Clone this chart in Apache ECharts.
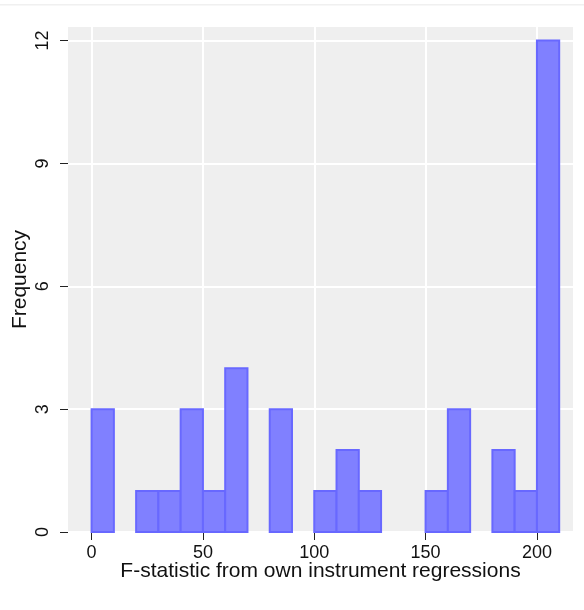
<!DOCTYPE html>
<html><head><meta charset="utf-8">
<script src="https://cdn.jsdelivr.net/npm/echarts@6/dist/echarts.min.js"></script>
<style>html,body{margin:0;padding:0;background:#fff}#c{width:584px;height:610px}</style>
</head><body><div id="c"></div>
<script>
const binStarts = [0,10,20,30,40,50,60,70,80,90,100,110,120,130,140,150,160,170,180,190,200];
const counts    = [3,0,1,1,3,1,4,0,3,0,1,2,1,0,0,1,3,0,2,1,12];
const binWidth = 10;
const xTicks = [0,50,100,150,200];
const yTicks = [0,3,6,9,12];

const data = binStarts.map((s,i)=>[s, s+binWidth, counts[i]]).filter(d=>d[2]>0);
const chart = echarts.init(document.getElementById('c'), null, {renderer:'canvas'});
const font = 'Liberation Sans, Arial, sans-serif';
chart.setOption({
  animation:false,
  backgroundColor:'#fff',
  grid:{left:68,right:11,top:27,bottom:78,show:true,backgroundColor:'#efefef',borderWidth:0,
        outerBoundsMode:'none',containLabel:false},
  graphic:[{type:'rect',shape:{x:0,y:4,width:584,height:1.5},style:{fill:'#f0f0f0'},silent:true}],
  xAxis:{type:'value',min:-10.6,max:216.2,
    name:'F-statistic from own instrument regressions',nameLocation:'middle',nameGap:29,
    nameMoveOverlap:false,
    nameTextStyle:{fontFamily:font,fontSize:21,color:'#111'},
    axisLine:{show:false,onZero:false},
    axisTick:{show:true,length:8,customValues:xTicks,lineStyle:{color:'#222',width:1}},
    axisLabel:{customValues:xTicks,fontFamily:font,fontSize:18,color:'#111',margin:12},
    splitLine:{show:true,lineStyle:{color:'#ffffff',width:2}}
  },
  yAxis:{type:'value',min:0,max:12.33,
    name:'Frequency',nameLocation:'middle',nameGap:37,
    nameMoveOverlap:false,
    nameTextStyle:{fontFamily:font,fontSize:21,color:'#111'},
    axisLine:{show:false,onZero:false},
    axisTick:{show:true,length:8,customValues:yTicks,lineStyle:{color:'#222',width:1}},
    axisLabel:{customValues:yTicks,rotate:90,fontFamily:font,fontSize:18,color:'#111',margin:16},
    splitLine:{show:true,lineStyle:{color:'#ffffff',width:2}}
  },
  series:[{type:'custom',data:data,encode:{x:[0,1],y:2},
    renderItem:function(params,api){
      const p0 = api.coord([api.value(0),0]);
      const p1 = api.coord([api.value(1),api.value(2)]);
      return {type:'rect',shape:{x:p0[0],y:p1[1],width:p1[0]-p0[0],height:p0[1]-p1[1]},
        style:{fill:'#8080ff',stroke:'#6868ff',lineWidth:2}};
    }
  }]
});
</script></body></html>
